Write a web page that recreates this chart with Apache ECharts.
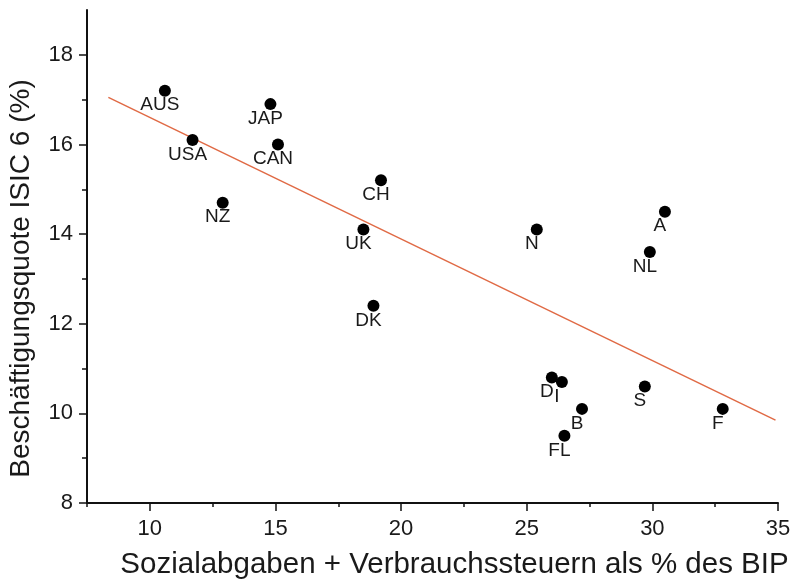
<!DOCTYPE html>
<html>
<head>
<meta charset="utf-8">
<script src="https://cdn.jsdelivr.net/npm/echarts@6/dist/echarts.min.js"></script>
<style>html,body{margin:0;padding:0;background:#fff}#c{width:803px;height:582px}</style>
</head>
<body>
<div id="c"></div>
<script>
const countries = ['AUS','JAP','USA','CAN','NZ','CH','UK','DK','N','A','NL','D','I','B','FL','S','F'];
const abgaben   = [10.6, 14.8, 11.7, 15.1, 12.9, 19.2, 18.5, 18.9, 25.4, 30.5, 29.9, 26.0, 26.4, 27.2, 26.5, 29.7, 32.8];
const quote     = [17.2, 16.9, 16.1, 16.0, 14.7, 15.2, 14.1, 12.4, 14.1, 14.5, 13.6, 10.8, 10.7, 10.1, 9.5, 10.6, 10.1];
const fitX = [8.35, 34.9];
const fitY = [17.05, 9.85];
const xTicks = [10, 15, 20, 25, 30, 35];
const xMinorTicks = [7.5, 12.5, 17.5, 22.5, 27.5, 32.5];
const yTicks = [8, 10, 12, 14, 16, 18];
const yMinorTicks = [9, 11, 13, 15, 17];

const font = 'Liberation Sans, Arial, sans-serif';
const ink = '#111';
const X = {min: 7.5, max: 35};
const Y = {min: 8, max: 19};

const chart = echarts.init(document.getElementById('c'), null, {renderer:'canvas'});
chart.setOption({
  backgroundColor: '#fff',
  animation: false,
  grid: {left: 87, right: 25, top: 10, bottom: 79, containLabel: false, outerBoundsMode: 'none'},
  xAxis: [{
    type: 'value', min: X.min, max: X.max, position: 'bottom',
    name: 'Sozialabgaben + Verbrauchssteuern als % des BIP',
    nameLocation: 'middle', nameGap: 47,
    nameTextStyle: {fontFamily: font, fontSize: 29.5, color: '#1a1a1a', padding: [0, 0, 0, 44]},
    axisLine: {show: true, onZero: false, lineStyle: {color: ink, width: 2}},
    axisTick: {show: true, inside: false, length: 8, customValues: xTicks, lineStyle: {color: ink, width: 1.5}},
    splitLine: {show: false},
    axisLabel: {fontFamily: font, fontSize: 22, color: '#1a1a1a', margin: 15, customValues: xTicks}
  }, {
    type: 'value', min: X.min, max: X.max, position: 'bottom',
    axisLine: {show: false, onZero: false},
    axisTick: {show: true, inside: false, length: 4, customValues: xMinorTicks, lineStyle: {color: ink, width: 1.5}},
    splitLine: {show: false},
    axisLabel: {show: false}
  }],
  yAxis: [{
    type: 'value', min: Y.min, max: Y.max, position: 'left',
    name: 'Beschäftigungsquote ISIC 6 (%)',
    nameLocation: 'middle', nameGap: 52, nameRotate: 90,
    nameTextStyle: {fontFamily: font, fontSize: 28, color: '#1a1a1a', padding: [0, 44, 0, 0]},
    axisLine: {show: true, onZero: false, lineStyle: {color: ink, width: 2}},
    axisTick: {show: true, inside: false, length: 8, customValues: yTicks, lineStyle: {color: ink, width: 1.5}},
    splitLine: {show: false},
    axisLabel: {fontFamily: font, fontSize: 22, color: '#1a1a1a', margin: 14, customValues: yTicks}
  }, {
    type: 'value', min: Y.min, max: Y.max, position: 'left',
    axisLine: {show: false, onZero: false},
    axisTick: {show: true, inside: false, length: 5, customValues: yMinorTicks, lineStyle: {color: ink, width: 1.5}},
    splitLine: {show: false},
    axisLabel: {show: false}
  }],
  series: [
    {
      type: 'line',
      data: fitX.map((x, i) => [x, fitY[i]]),
      showSymbol: false, symbol: 'none',
      lineStyle: {color: '#e06a45', width: 1.5},
      z: 1
    },
    {
      type: 'scatter',
      data: abgaben.map((x, i) => ({value: [x, quote[i]], name: countries[i]})),
      symbol: 'circle', symbolSize: 12,
      itemStyle: {color: '#000', opacity: 1},
      label: {show: true, position: 'bottom', distance: 0, offset: [-5, -1],
        formatter: p => p.name, fontFamily: font, fontSize: 19, color: '#1a1a1a'},
      z: 2
    }
  ]
});
</script>
</body>
</html>
